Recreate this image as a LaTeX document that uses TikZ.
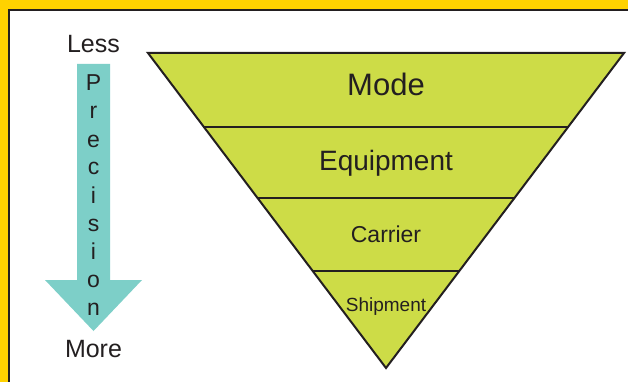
\documentclass[tikz,border=0pt]{standalone}
\usepackage{fontspec}
\setmainfont{Liberation Sans}
\usetikzlibrary{calc}
\definecolor{frameyellow}{HTML}{FFD200}
\definecolor{darkline}{HTML}{231F20}
\definecolor{funnelgreen}{HTML}{CDDC47}
\definecolor{arrowteal}{HTML}{7DCFC8}
\tikzset{
  lbl/.style={anchor=base, inner sep=0pt, text=darkline},
  letter/.style={anchor=base, inner sep=0pt, text=darkline, font=\fontsize{23}{23}\selectfont},
}
\begin{document}
\begin{tikzpicture}[x=1pt,y=-1pt]
\useasboundingbox (0,0) rectangle (628,382);
% frame
\fill[frameyellow] (0,0) rectangle (628,382);
\clip (0,0) rectangle (628,382);
\filldraw[fill=white, draw=darkline, line width=2pt] (9,10) rectangle (660,420);
% funnel
\coordinate (tl) at (148,53);
\coordinate (tr) at (624,53);
\coordinate (apex) at (386,368);
\fill[funnelgreen] (tl) -- (tr) -- (apex) -- cycle;
\coordinate (l1) at ($(tl)!0.2349!(apex)$);
\coordinate (r1) at ($(tr)!0.2349!(apex)$);
\coordinate (l2) at ($(tl)!0.4603!(apex)$);
\coordinate (r2) at ($(tr)!0.4603!(apex)$);
\coordinate (l3) at ($(tl)!0.6921!(apex)$);
\coordinate (r3) at ($(tr)!0.6921!(apex)$);
\draw[darkline, line width=2pt] (l1) -- (r1) (l2) -- (r2) (l3) -- (r3);
\draw[darkline, line width=2pt, line join=miter] (tl) -- (tr) -- (apex) -- cycle;
\node[lbl, font=\fontsize{31}{31}\selectfont] (mode) at (386,96) {Mode};
\node[lbl, font=\fontsize{28}{28}\selectfont] (equip) at (386,171) {Equipment};
\node[lbl, font=\fontsize{23}{23}\selectfont] (carrier) at (386,242) {Carrier};
\node[lbl, font=\fontsize{19}{19}\selectfont] (ship) at (386,311) {Shipment};
% arrow
\fill[arrowteal] (77,64) -- (110,64) -- (110,280) -- (142,280) -- (93.5,331) -- (45,280) -- (77,280) -- cycle;
\node[lbl, font=\fontsize{25}{25}\selectfont] (less) at (93.5,53) {Less};
\node[lbl, font=\fontsize{25}{25}\selectfont] (more) at (93.5,357) {More};
\node[letter] (p1) at (93.5,91) {P};
\node[letter] (p2) at (93.5,119) {r};
\node[letter] (p3) at (93.5,147) {e};
\node[letter] (p4) at (93.5,175) {c};
\node[letter] (p5) at (93.5,203) {i};
\node[letter] (p6) at (93.5,231) {s};
\node[letter] (p7) at (93.5,259) {i};
\node[letter] (p8) at (93.5,287) {o};
\node[letter] (p9) at (93.5,315) {n};
\end{tikzpicture}
\end{document}
